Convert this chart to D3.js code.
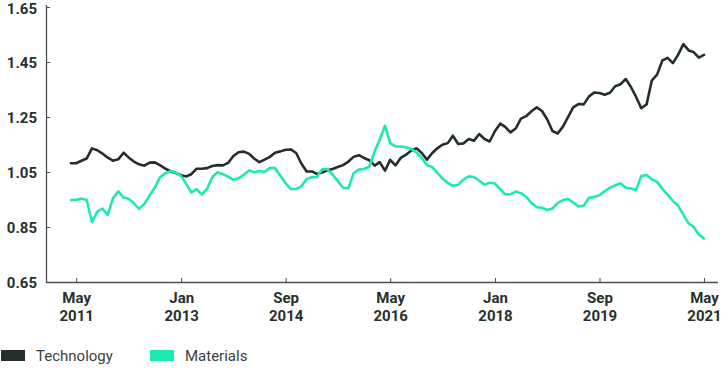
<!DOCTYPE html>
<html>
<head>
<meta charset="utf-8">
<script src="https://cdn.jsdelivr.net/npm/d3@7"></script>
<style>
  html, body { margin: 0; padding: 0; background: #fff; }
  svg { display: block; }
</style>
</head>
<body>
<svg id="chart" width="728" height="369"></svg>
<script>
// ---- Data (monthly, Apr 2011 .. May 2021) ----
const startMonth = "2011-04";
const endMonth = "2021-05";

const technology = [
  1.082,1.082,1.091,1.099,1.136,1.129,1.117,1.102,1.091,1.096,
  1.120,1.103,1.088,1.078,1.073,1.084,1.085,1.074,1.062,1.053,
  1.046,1.038,1.034,1.042,1.062,1.062,1.064,1.072,1.075,1.074,
  1.083,1.108,1.122,1.124,1.116,1.099,1.086,1.095,1.105,1.120,
  1.125,1.131,1.132,1.119,1.081,1.052,1.052,1.043,1.048,1.056,
  1.061,1.068,1.075,1.088,1.105,1.111,1.101,1.093,1.073,1.086,
  1.055,1.094,1.074,1.101,1.113,1.128,1.136,1.119,1.095,1.119,
  1.137,1.149,1.155,1.182,1.152,1.154,1.170,1.164,1.188,1.170,
  1.161,1.199,1.226,1.214,1.194,1.208,1.244,1.253,1.271,1.285,
  1.272,1.241,1.199,1.190,1.216,1.249,1.285,1.297,1.296,1.324,
  1.339,1.337,1.331,1.338,1.362,1.369,1.388,1.360,1.323,1.282,
  1.296,1.382,1.404,1.456,1.465,1.446,1.476,1.515,1.492,1.486,
  1.466,1.476
];

const materials = [
  0.948,0.948,0.954,0.948,0.868,0.906,0.917,0.894,0.954,0.980,
  0.957,0.953,0.936,0.916,0.934,0.964,0.994,1.032,1.045,1.054,
  1.048,1.035,1.005,0.976,0.988,0.968,0.989,1.031,1.049,1.042,
  1.033,1.021,1.027,1.040,1.056,1.049,1.054,1.050,1.065,1.064,
  1.036,1.009,0.988,0.988,0.998,1.024,1.032,1.031,1.060,1.060,
  1.041,1.017,0.993,0.991,1.045,1.059,1.061,1.070,1.125,1.167,
  1.218,1.155,1.143,1.143,1.140,1.134,1.121,1.101,1.075,1.068,
  1.046,1.027,1.010,1.000,1.004,1.022,1.034,1.032,1.018,1.004,
  1.011,1.008,0.988,0.969,0.969,0.979,0.973,0.960,0.937,0.922,
  0.920,0.912,0.917,0.938,0.948,0.952,0.939,0.925,0.927,0.956,
  0.959,0.966,0.980,0.993,1.001,1.009,0.993,0.990,0.985,1.035,
  1.039,1.024,1.014,0.989,0.968,0.945,0.928,0.894,0.862,0.851,
  0.823,0.808
];

const yTicks = [0.65, 0.85, 1.05, 1.25, 1.45, 1.65];
const xTickLabels = [["May","2011"],["Jan","2013"],["Sep","2014"],["May","2016"],["Jan","2018"],["Sep","2019"],["May","2021"]];
const xTickMonths = ["2011-05","2013-01","2014-09","2016-05","2018-01","2019-09","2021-05"];

const seriesNames = ["Technology", "Materials"];
const seriesColors = ["#242f2b", "#1de9b0"];

// ---- Setup ----
const parseMonth = d3.timeParse("%Y-%m");
const dates = d3.timeMonth.range(parseMonth(startMonth), d3.timeMonth.offset(parseMonth(endMonth), 1));

const svg = d3.select("#chart");
const axisColor = "#4a4f4d";
const textColor = "#27302d";
const fontFam = "Roboto, 'Liberation Sans', Arial, sans-serif";

const x = d3.scaleTime()
  .domain([dates[0], dates[dates.length - 1]])
  .range([71, 704]);
const y = d3.scaleLinear().domain([0.65, 1.65]).range([282, 7]);

// Y axis
const yAxis = svg.append("g")
  .attr("transform", "translate(46,0)")
  .call(d3.axisLeft(y).tickValues(yTicks).tickFormat(d3.format(".2f")).tickSizeInner(-4).tickSizeOuter(0).tickPadding(9));
yAxis.select(".domain").attr("stroke", axisColor).attr("stroke-width", 1.3).attr("d", "M0.5,5V282");
yAxis.selectAll(".tick line").attr("stroke", axisColor).attr("stroke-width", 1);
yAxis.selectAll(".tick text")
  .attr("fill", textColor)
  .attr("dy", d => d === 1.65 ? "0.42em" : "0.35em")
  .style("font-family", fontFam)
  .style("font-weight", "700")
  .style("font-size", "15px");

// X axis
const xAxis = svg.append("g")
  .attr("transform", "translate(0,282)")
  .call(d3.axisBottom(x).tickValues(xTickMonths.map(parseMonth)).tickSizeInner(-4).tickSizeOuter(0).tickFormat(() => ""));
xAxis.select(".domain").attr("stroke", axisColor).attr("stroke-width", 1.3).attr("d", "M46,0.5H718");
xAxis.selectAll(".tick line").attr("stroke", axisColor).attr("stroke-width", 1);
xAxis.selectAll(".tick text").remove();
xAxis.selectAll(".tick").each(function(d, i) {
  const t = d3.select(this).append("text")
    .attr("text-anchor", "middle")
    .attr("fill", textColor)
    .style("font-family", fontFam)
    .style("font-weight", "700")
    .style("font-size", "15px");
  t.append("tspan").attr("x", 0).attr("y", 21).text(xTickLabels[i][0]);
  t.append("tspan").attr("x", 0).attr("y", 38.5).text(xTickLabels[i][1]);
});

// Lines
const line = d3.line()
  .x((d, i) => x(dates[i]))
  .y(d => y(d));

[technology, materials].forEach((vals, k) => {
  svg.append("path")
    .datum(vals)
    .attr("fill", "none")
    .attr("stroke", seriesColors[k])
    .attr("stroke-width", 2.6)
    .attr("stroke-linejoin", "round")
    .attr("stroke-linecap", "round")
    .attr("d", line);
});

// Legend
const legendX = [1, 150];
seriesNames.forEach((name, k) => {
  const g = svg.append("g").attr("transform", `translate(${legendX[k]},350)`);
  g.append("rect").attr("width", 24).attr("height", 11).attr("fill", seriesColors[k]);
  g.append("text")
    .attr("x", 35).attr("y", 10.5)
    .attr("fill", "#3a3f3d")
    .style("font-family", fontFam)
    .style("font-size", "15px")
    .text(name);
});
</script>
</body>
</html>
